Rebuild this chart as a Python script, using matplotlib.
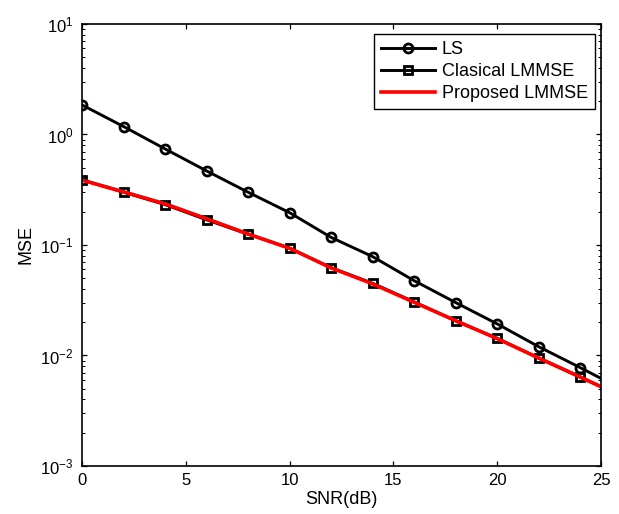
import matplotlib.pyplot as plt
import numpy as np

plt.rcParams["font.family"] = ["Liberation Sans", "DejaVu Sans"]
plt.rcParams["mathtext.fontset"] = "custom"
plt.rcParams["mathtext.rm"] = "Liberation Sans"
plt.rcParams["mathtext.it"] = "Liberation Sans"

# SNR grid (dB); markers sit on the even points, the curves end at 25 dB
snr = [0, 2, 4, 6, 8, 10, 12, 14, 16, 18, 20, 22, 24, 25]
mse_ls = [1.85, 1.18, 0.74, 0.468, 0.30, 0.196, 0.117, 0.0784, 0.0475,
          0.0301, 0.0193, 0.0120, 0.00776, 0.0062]
mse_lmmse = [0.387, 0.300, 0.232, 0.169, 0.125, 0.0933, 0.0623, 0.0450,
             0.0305, 0.0205, 0.0143, 0.00944, 0.00635, 0.0052]
mse_proposed = [0.387, 0.303, 0.236, 0.173, 0.126, 0.0935, 0.0620, 0.0445,
                0.0303, 0.0207, 0.0142, 0.00950, 0.00640, 0.00522]
labels = ["LS", "Clasical LMMSE", "Proposed LMMSE"]

fig = plt.figure(figsize=(6.19, 5.14), dpi=100)
ax = fig.add_axes([0.1325, 0.0934, 0.8385, 0.8600])

marks = list(range(13))
ax.semilogy(snr, mse_ls, color="black", lw=2.1, marker="o", ms=6.5, mew=2,
            mfc="none", markevery=marks, label=labels[0])
ax.semilogy(snr, mse_lmmse, color="black", lw=2.1, marker="s", ms=5.5, mew=2,
            mfc="none", markevery=marks, label=labels[1])
ax.semilogy(snr, mse_proposed, color="red", lw=2.6, label=labels[2])

ax.set_xlim(0, 25)
ax.set_ylim(1e-3, 1e1)
ax.set_xticks([0, 5, 10, 15, 20, 25])
ax.tick_params(which="both", direction="in", top=True, right=True,
               labelsize=12, colors="black")
ax.tick_params(which="major", length=3.6, width=0.9)
ax.tick_params(which="minor", length=2.2, width=0.7)
ax.tick_params(axis="x", pad=5)
ax.tick_params(axis="y", pad=6)
for s in ax.spines.values():
    s.set_linewidth(1.2)

ax.set_xlabel("SNR(dB)", fontsize=13, labelpad=2)
ax.set_ylabel("MSE", fontsize=13, labelpad=4)

leg = ax.legend(loc="upper right", bbox_to_anchor=(0.9884, 0.9774),
                fontsize=13, frameon=True, fancybox=False,
                edgecolor="black", framealpha=1, handlelength=3.0,
                handletextpad=0.35, borderaxespad=0, borderpad=0.4,
                labelspacing=0.28)
leg.get_frame().set_linewidth(1.0)

fig.savefig("out.png", dpi=100)
